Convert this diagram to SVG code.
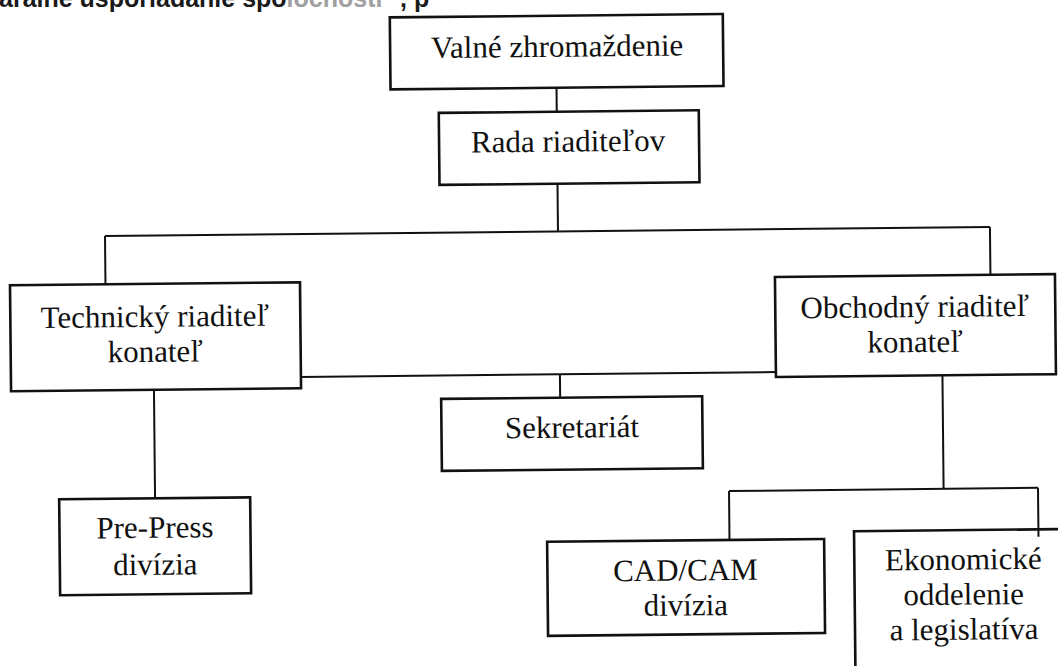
<svg xmlns="http://www.w3.org/2000/svg" width="1058" height="666" viewBox="0 0 1058 666">
<style>
.box{fill:#fff;stroke:#111;stroke-width:2.6}
.lbl{font-family:"Liberation Serif","Times New Roman",serif;font-size:31px;fill:#111;text-anchor:middle}
.conn{stroke:#111;stroke-width:2;fill:none}
.hdr{font-family:"Liberation Sans",Arial,sans-serif;font-weight:bold;font-size:25px;fill:#1a1a1a}
</style>
<rect width="1058" height="666" fill="#fff"/>
<text class="hdr" x="-1" y="6.5">arálne usporiadanie spo<tspan fill="#a0a0a0">ločnosti</tspan></text>
<text class="hdr" x="400" y="6.5">, p</text>
<g transform="rotate(-0.58 529 333)">
<g id="valne"><rect class="box" x="393" y="16" width="333" height="72"/><text class="lbl" x="560" y="57">Valné zhromaždenie</text></g>
<g id="rada"><rect class="box" x="441" y="112" width="260" height="72"/><text class="lbl" x="570" y="152">Rada riaditeľov</text></g>
<g id="technicky"><rect class="box" x="10.5" y="280" width="290" height="106"/><text class="lbl" x="155" y="323">Technický riaditeľ<tspan x="155" y="358">konateľ</tspan></text></g>
<g id="obchodny"><rect class="box" x="775.5" y="279.5" width="280" height="100"/><text class="lbl" x="915" y="321">Obchodný riaditeľ<tspan x="915" y="356">konateľ</tspan></text></g>
<g id="sekretariat"><rect class="box" x="440.5" y="398" width="261" height="72"/><text class="lbl" x="571" y="438">Sekretariát</text></g>
<g id="prepress"><rect class="box" x="57.5" y="494.5" width="191" height="96"/><text class="lbl" x="153" y="534">Pre-Press<tspan x="153" y="571">divízia</tspan></text></g>
<g id="cadcam"><rect class="box" x="545" y="542" width="277" height="94"/><text class="lbl" x="683" y="582">CAD/CAM<tspan x="683" y="617">divízia</tspan></text></g>
<g id="ekonomicke"><rect class="box" x="852" y="534.5" width="260" height="200"/><text class="lbl" x="961" y="574">Ekonomické<tspan x="961" y="609">oddelenie</tspan><tspan x="961" y="644">a legislatíva</tspan></text></g>
<g id="connectors" class="conn">
<path d="M559 88V112"/>
<path d="M559 184V231.7"/>
<path d="M106 231.7H991"/>
<path d="M106 231.7V280"/>
<path d="M991 231.7V279.5"/>
<path d="M300.4 374.6H775.6"/>
<path d="M559.5 374.6V398"/>
<path d="M153.4 386V494.5"/>
<path d="M942 379.3V493"/>
<path d="M727.4 493H1036.4"/>
<path d="M727.4 493V542"/>
<path d="M1036.4 493V542"/>
</g>
</g>
</svg>
